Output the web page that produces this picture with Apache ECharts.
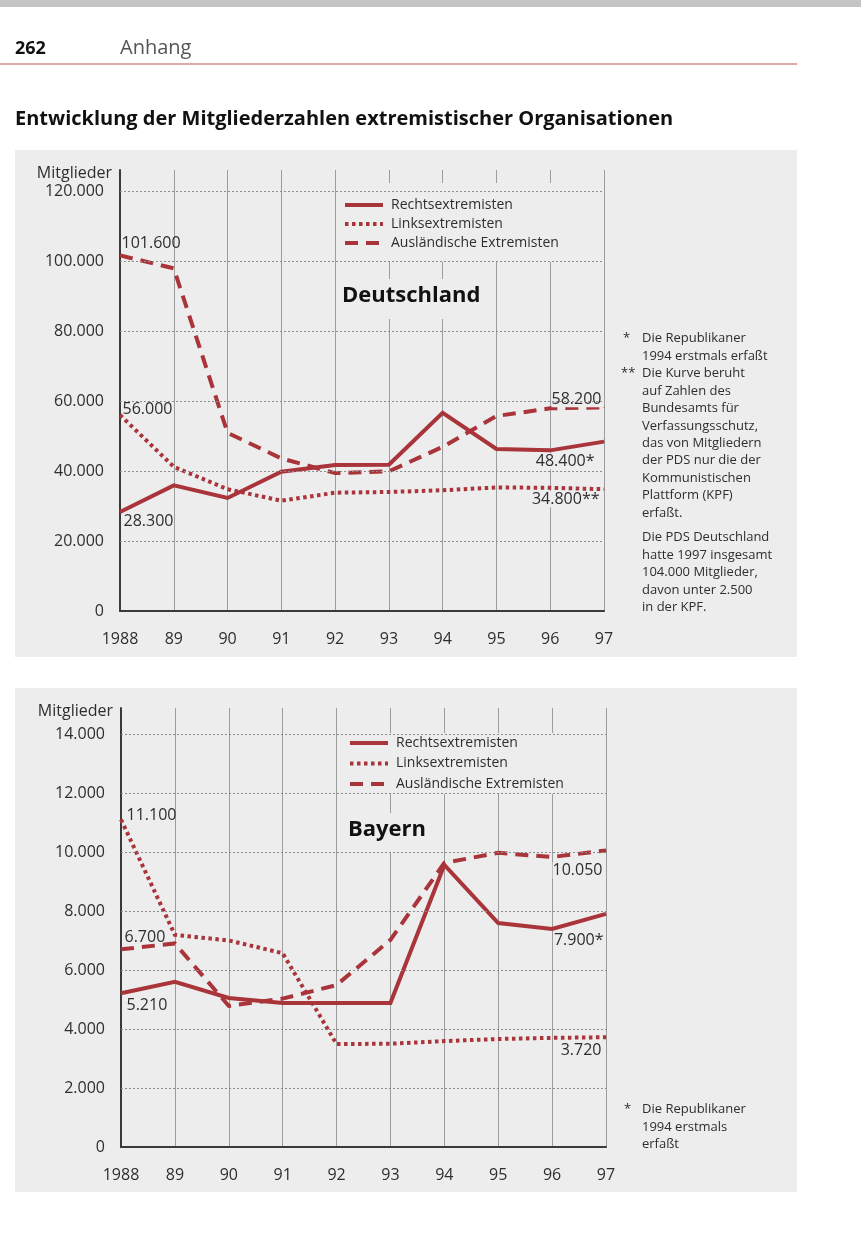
<!DOCTYPE html>
<html><head><meta charset="utf-8">
<script src="https://cdn.jsdelivr.net/npm/echarts@6/dist/echarts.min.js"></script>
<style>html,body{margin:0;padding:0;background:#fff}#c{width:861px;height:1257px}</style>
</head><body><div id="c"></div>
<script>
// ---- data ----
const years = ['1988', '89', '90', '91', '92', '93', '94', '95', '96', '97'];
const seriesNames = ['Rechtsextremisten', 'Linksextremisten', 'Ausländische Extremisten'];
// Deutschland
const deRechts = [28300, 35900, 32300, 39800, 41700, 41800, 56600, 46300, 45900, 48400];
const deLinks  = [56000, 41200, 34800, 31500, 33800, 34000, 34500, 35300, 35200, 34800];
const deAusl   = [101600, 97900, 50900, 43600, 39400, 39900, 46900, 55700, 57900, 58200];
const deTicks  = [0, 20000, 40000, 60000, 80000, 100000, 120000];
// Bayern
const byRechts = [5210, 5600, 5050, 4880, 4880, 4880, 9560, 7590, 7390, 7900];
const byLinks  = [11100, 7190, 7000, 6570, 3490, 3500, 3590, 3660, 3700, 3720];
const byAusl   = [6700, 6900, 4780, 5030, 5490, 7020, 9630, 9970, 9830, 10050];
const byTicks  = [0, 2000, 4000, 6000, 8000, 10000, 12000, 14000];

// ---- styles ----
const RED = '#a9343a';
const PANEL = '#ededed';
const FONT = '"Open Sans", "Noto Sans", sans-serif';
const TXT = '#2e2e2e';
const dashTypes = ['solid', [3.5, 3.5], [13, 8]];

function fmt(v) { return String(v).replace(/\B(?=(\d{3})+(?!\d))/g, '.'); }

function mkData(vals, startOff, endOff, suffix) {
  return vals.map((v, i) => {
    const base = { value: v, symbol: 'circle', symbolSize: 1 };
    if (i === 0 && startOff) {
      return Object.assign(base, { label: { show: true, position: 'right', distance: 0, offset: startOff, formatter: fmt(v) } });
    }
    if (i === vals.length - 1 && endOff) {
      return Object.assign(base, { label: { show: true, position: 'left', distance: 0, offset: endOff, formatter: fmt(v) + (suffix || ''), backgroundColor: PANEL } });
    }
    return v;
  });
}

function lineSeries(idx, gi, data) {
  return {
    name: seriesNames[idx], type: 'line', xAxisIndex: gi, yAxisIndex: gi,
    data: data, symbol: 'none', z: 3, animation: false,
    lineStyle: { color: RED, width: 4, type: dashTypes[idx], cap: 'butt', join: 'miter' },
    itemStyle: { color: RED },
    label: { color: TXT, fontSize: 16, fontFamily: FONT },
    emphasis: { disabled: true }
  };
}

function gridSeries(gi, ticks) {
  return {
    type: 'line', xAxisIndex: gi, yAxisIndex: gi, data: [], z: 2, silent: true, animation: false,
    markLine: {
      silent: true, symbol: ['none', 'none'], label: { show: false }, animation: false,
      lineStyle: { color: '#8c8c8c', width: 1, type: [2, 2] },
      emphasis: { disabled: true },
      data: ticks.filter(v => v > 0).map(v => ({ yAxis: v }))
    }
  };
}

function xAxis(gi) {
  return {
    type: 'category', gridIndex: gi, data: years, boundaryGap: false,
    axisLine: { lineStyle: { color: '#3a3a3a', width: 2 } },
    axisTick: { show: false },
    axisLabel: { fontSize: 16, color: TXT, fontFamily: FONT, margin: 20, interval: 0 },
    splitLine: { show: true, interval: 0, lineStyle: { color: '#9c9c9c', width: 1 } }
  };
}

function yAxis(gi, max, interval) {
  return {
    type: 'value', gridIndex: gi, min: 0, max: max, interval: interval,
    name: 'Mitglieder', nameLocation: 'end', nameGap: -3,
    nameTextStyle: { fontSize: 16, color: TXT, fontFamily: FONT, align: 'right', verticalAlign: 'middle', padding: [0, 8, 0, 0] },
    axisLine: { show: true, lineStyle: { color: '#3a3a3a', width: 2 } },
    axisTick: { show: false },
    splitLine: { show: false },
    axisLabel: { fontSize: 16, color: TXT, fontFamily: FONT, margin: 16, showMaxLabel: false,
      formatter: v => (v % interval === 0 ? fmt(v) : '') }
  };
}

function legend(left, top, gap, pad) {
  return {
    orient: 'vertical', left: left, top: top, z: 1, data: seriesNames,
    backgroundColor: PANEL, padding: pad,
    itemWidth: 38, itemHeight: 14, itemGap: gap,
    itemStyle: { opacity: 0, borderWidth: 0 },
    lineStyle: { width: 4 },
    textStyle: { fontSize: 14, color: TXT, fontFamily: FONT, lineHeight: 14, padding: [0, 0, 0, 3] },
    selectedMode: false
  };
}

const footTop1 = 'Die Republikaner\n1994 erstmals erfaßt';
const footTop2 = 'Die Kurve beruht\nauf Zahlen des\nBundesamts für\nVerfassungsschutz,\ndas von Mitgliedern\nder PDS nur die der\nKommunistischen\nPlattform (KPF)\nerfaßt.';
const footTop3 = 'Die PDS Deutschland\nhatte 1997 insgesamt\n104.000 Mitglieder,\ndavon unter 2.500\nin der KPF.';
const footBot = 'Die Republikaner\n1994 erstmals\nerfaßt';

function txt(x, y, text, size, opts) {
  return Object.assign({
    type: 'text', x: x, y: y, z: 5,
    style: Object.assign({ text: text, fontSize: size, fontFamily: FONT, fill: TXT, lineHeight: 17.4, verticalAlign: 'top' }, opts || {})
  });
}

const option = {
  backgroundColor: '#ffffff',
  animation: false,
  title: [
    { text: 'Deutschland', left: 338, top: 279, z: 1, backgroundColor: PANEL, padding: [2, 4, 8, 4],
      textStyle: { fontSize: 22, fontWeight: 'bold', color: '#111', fontFamily: FONT, lineHeight: 30 } },
    { text: 'Bayern', left: 344, top: 813, z: 1, backgroundColor: PANEL, padding: [2, 4, 8, 4],
      textStyle: { fontSize: 22, fontWeight: 'bold', color: '#111', fontFamily: FONT, lineHeight: 30 } }
  ],
  legend: [ legend(340, 183, 5, [15, 12, 12, 3]), legend(345, 733, 6.5, [3, 12, 3, 3]) ],
  grid: [
    { left: 120, right: 257, top: 170, bottom: 646 },
    { left: 121, right: 255, top: 708, bottom: 110 }
  ],
  xAxis: [ xAxis(0), xAxis(1) ],
  yAxis: [ yAxis(0, 126000, 20000), yAxis(1, 14880, 2000) ],
  series: [
    gridSeries(0, deTicks),
    lineSeries(0, 0, mkData(deRechts, [3, 9], [-9, 20], '*')),
    lineSeries(1, 0, mkData(deLinks, [2, -6], [-4, 10], '**')),
    lineSeries(2, 0, mkData(deAusl, [1, -12], [-2, -8], '')),
    gridSeries(1, byTicks),
    lineSeries(0, 1, mkData(byRechts, [5, 12], [-2, 27], '*')),
    lineSeries(1, 1, mkData(byLinks, [5, -4], [-4, 13], '')),
    lineSeries(2, 1, mkData(byAusl, [3, -12], [-3, 20], ''))
  ],
  graphic: [
    { type: 'rect', z: -10, shape: { x: 0, y: 0, width: 861, height: 7 }, style: { fill: '#c4c4c4' } },
    { type: 'rect', z: -10, shape: { x: 15, y: 150, width: 782, height: 507 }, style: { fill: PANEL } },
    { type: 'rect', z: -10, shape: { x: 15, y: 688, width: 782, height: 504 }, style: { fill: PANEL } },
    { type: 'line', z: -5, shape: { x1: 0, y1: 64, x2: 797, y2: 64 }, style: { stroke: '#b85550', lineWidth: 1 } },
    txt(15, 38, '262', 18, { fontWeight: 'bold', fill: '#111', lineHeight: 22 }),
    txt(120, 36, 'Anhang', 20, { fill: '#555', lineHeight: 24 }),
    txt(15, 106, 'Entwicklung der Mitgliederzahlen extremistischer Organisationen', 20, { fontWeight: 'bold', fill: '#111', lineHeight: 26 }),
    txt(623, 330, '*', 13),
    txt(642, 330, footTop1, 13),
    txt(621, 365, '**', 13),
    txt(642, 365, footTop2, 13),
    txt(642, 529, footTop3, 13),
    txt(624, 1101, '*', 13),
    txt(642, 1101, footBot, 13)
  ]
};

const chart = echarts.init(document.getElementById('c'), null, { renderer: 'canvas' });
chart.setOption(option);
</script>
</body></html>
